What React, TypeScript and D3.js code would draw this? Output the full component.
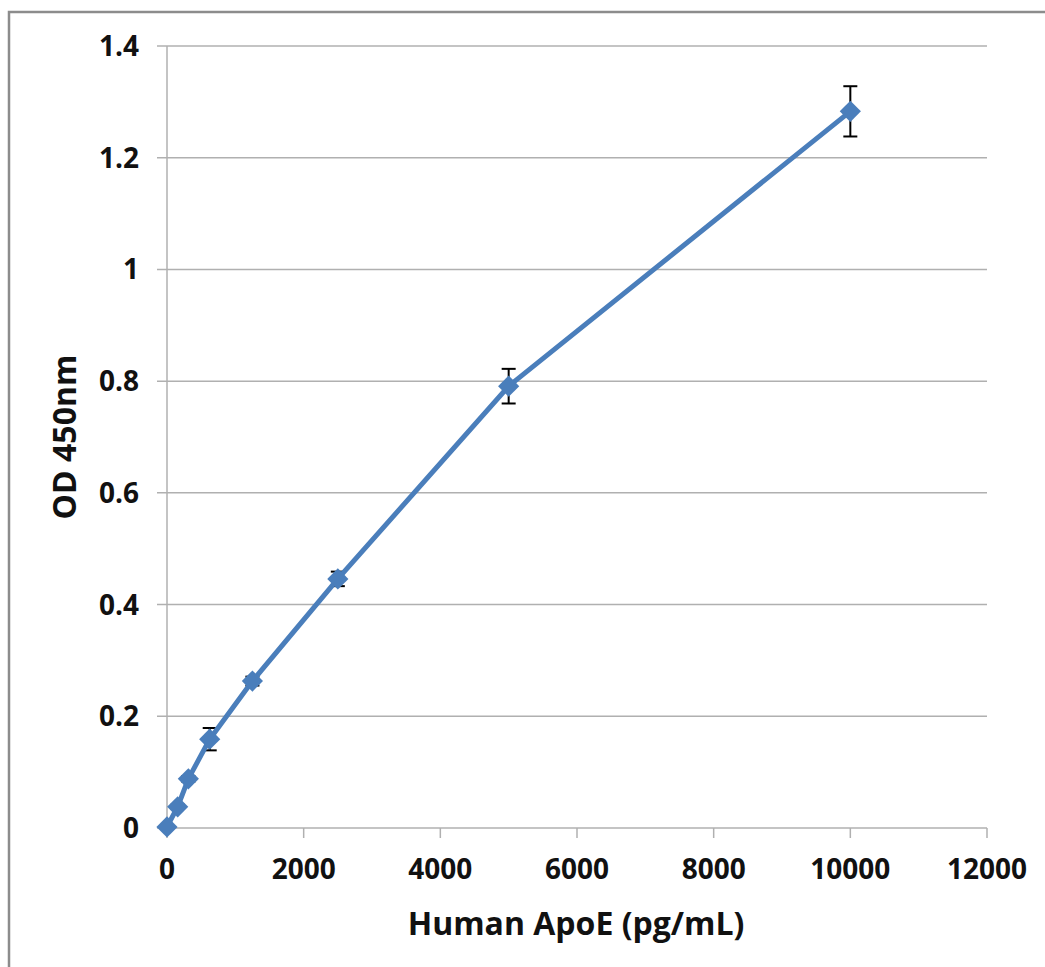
import React, { useEffect, useRef } from "react";
import * as d3 from "d3";

const concentrations = [0, 156.25, 312.5, 625, 1250, 2500, 5000, 10000];
const odValues = [0.002, 0.038, 0.088, 0.159, 0.263, 0.446, 0.791, 1.283];
const odErrors = [0, 0.004, 0.005, 0.02, 0.008, 0.013, 0.031, 0.045];
const xTicks = [0, 2000, 4000, 6000, 8000, 10000, 12000];
const yTicks = [0, 0.2, 0.4, 0.6, 0.8, 1, 1.2, 1.4];

export default function App() {
  const svgRef = useRef<SVGSVGElement>(null);

  useEffect(() => {
    const width = 1045;
    const height = 967;
    const plot = { left: 167, right: 987, top: 46, bottom: 828 };
    const font = "'Open Sans', sans-serif";

    const svg = d3.select(svgRef.current).attr("width", width).attr("height", height);
    svg.selectAll("*").remove();

    svg
      .append("rect")
      .attr("width", width)
      .attr("height", height)
      .attr("fill", "#fff");

    // outer chart border (runs off the right and bottom edges)
    svg
      .append("path")
      .attr("d", `M9,${height + 5} V12 H${width + 5}`)
      .attr("fill", "none")
      .attr("stroke", "#8c8c8c")
      .attr("stroke-width", 2.5);

    const x = d3.scaleLinear().domain([0, 12000]).range([plot.left, plot.right]);
    const y = d3.scaleLinear().domain([0, 1.4]).range([plot.bottom, plot.top]);

    // horizontal gridlines + left ticks
    svg
      .append("g")
      .selectAll("line")
      .data(yTicks)
      .enter()
      .append("line")
      .attr("x1", plot.left - 10)
      .attr("x2", plot.right)
      .attr("y1", (d) => y(d))
      .attr("y2", (d) => y(d))
      .attr("stroke", "#b0b0b0")
      .attr("stroke-width", 1.5);

    // y axis
    svg
      .append("line")
      .attr("x1", plot.left)
      .attr("x2", plot.left)
      .attr("y1", plot.top)
      .attr("y2", plot.bottom)
      .attr("stroke", "#b0b0b0")
      .attr("stroke-width", 1.5);

    // x ticks
    svg
      .append("g")
      .selectAll("line")
      .data(xTicks)
      .enter()
      .append("line")
      .attr("x1", (d) => x(d))
      .attr("x2", (d) => x(d))
      .attr("y1", plot.bottom)
      .attr("y2", plot.bottom + 10)
      .attr("stroke", "#b0b0b0")
      .attr("stroke-width", 1.5);

    svg
      .append("g")
      .selectAll("text")
      .data(yTicks)
      .enter()
      .append("text")
      .attr("x", 139)
      .attr("y", (d) => y(d) + 10)
      .attr("text-anchor", "end")
      .attr("font-family", font)
      .attr("font-weight", "bold")
      .attr("font-size", "28px")
      .attr("fill", "#111")
      .text((d) => String(d));

    svg
      .append("g")
      .selectAll("text")
      .data(xTicks)
      .enter()
      .append("text")
      .attr("x", (d) => x(d))
      .attr("y", 879)
      .attr("text-anchor", "middle")
      .attr("font-family", font)
      .attr("font-weight", "bold")
      .attr("font-size", "28px")
      .attr("fill", "#111")
      .text((d) => String(d));

    svg
      .append("text")
      .attr("x", 576)
      .attr("y", 935)
      .attr("text-anchor", "middle")
      .attr("font-family", font)
      .attr("font-weight", "bold")
      .attr("font-size", "32px")
      .attr("fill", "#111")
      .text("Human ApoE (pg/mL)");

    svg
      .append("text")
      .attr("transform", `translate(76, 437) rotate(-90)`)
      .attr("text-anchor", "middle")
      .attr("font-family", font)
      .attr("font-weight", "bold")
      .attr("font-size", "32px")
      .attr("fill", "#111")
      .text("OD 450nm");

    const points = concentrations.map((c, i) => ({ c, v: odValues[i], e: odErrors[i] }));

    // error bars
    const eb = svg
      .append("g")
      .selectAll("g")
      .data(points.filter((p) => p.e > 0))
      .enter()
      .append("g")
      .attr("stroke", "#000")
      .attr("stroke-width", 2);
    eb.append("line")
      .attr("x1", (d) => x(d.c))
      .attr("x2", (d) => x(d.c))
      .attr("y1", (d) => y(d.v + d.e))
      .attr("y2", (d) => y(d.v - d.e));
    eb.append("line")
      .attr("x1", (d) => x(d.c) - 7)
      .attr("x2", (d) => x(d.c) + 7)
      .attr("y1", (d) => y(d.v + d.e))
      .attr("y2", (d) => y(d.v + d.e));
    eb.append("line")
      .attr("x1", (d) => x(d.c) - 7)
      .attr("x2", (d) => x(d.c) + 7)
      .attr("y1", (d) => y(d.v - d.e))
      .attr("y2", (d) => y(d.v - d.e));

    const line = d3
      .line<{ c: number; v: number }>()
      .x((d) => x(d.c))
      .y((d) => y(d.v));

    svg
      .append("path")
      .datum(points)
      .attr("d", line)
      .attr("fill", "none")
      .attr("stroke", "#4a7ebb")
      .attr("stroke-width", 5)
      .attr("stroke-linejoin", "round");

    // diamond markers
    svg
      .append("g")
      .selectAll("path")
      .data(points)
      .enter()
      .append("path")
      .attr("transform", (d) => `translate(${x(d.c)},${y(d.v)}) rotate(45)`)
      .attr("d", d3.symbol().type(d3.symbolSquare).size(225))
      .attr("fill", "#4a7ebb");
  }, []);

  return (
    <div style={{ position: "absolute", left: 0, top: 0 }}>
      <svg ref={svgRef} style={{ display: "block" }}></svg>
    </div>
  );
}
